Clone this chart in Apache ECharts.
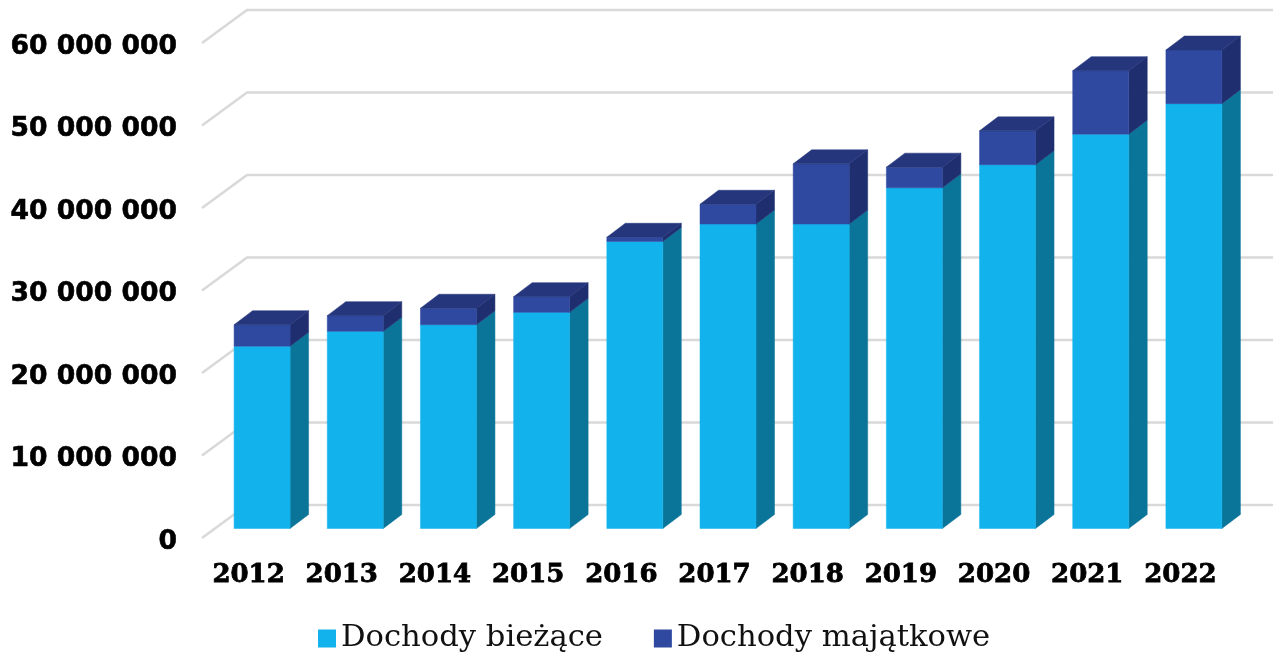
<!DOCTYPE html>
<html><head><meta charset="utf-8">
<style>html,body{margin:0;padding:0;background:#fff}#c{width:1274px;height:654px}</style>
<script src="https://cdn.jsdelivr.net/npm/echarts@6/dist/echarts.min.js"></script>
</head><body><div id="c"></div>
<script>
const years = ['2012','2013','2014','2015','2016','2017','2018','2019','2020','2021','2022'];
const current = [22100000,23900000,24700000,26200000,34800000,36900000,36900000,41300000,44100000,47800000,51500000];
const capital = [2600000,1900000,2000000,1900000,500000,2400000,7300000,2500000,4100000,7700000,6500000];
const ticks = [0,10000000,20000000,30000000,40000000,50000000,60000000];

const shift = {x:13.5, y:-9.5}, depth = {x:18.5, y:-14}, barW = 56, wall = {x:45, y:-33};
const chart = echarts.init(document.getElementById('c'), null, {renderer:'canvas'});

function poly(points, fill){
  return {type:'polygon', shape:{points}, style:{fill, stroke:fill, lineWidth:0.5}};
}
function segment(colors, withTop){
  return function(params, api){
    const i = api.value(0), lo = api.value(1), hi = api.value(2);
    const a = api.coord([i, lo]), b = api.coord([i, hi]);
    const l = a[0] + shift.x - barW/2, r = l + barW;
    const y0 = a[1] + shift.y, y1 = b[1] + shift.y;
    const dx = depth.x, dy = depth.y;
    const children = [
      poly([[r,y0],[r+dx,y0+dy],[r+dx,y1+dy],[r,y1]], colors.side),
      poly([[l,y0],[r,y0],[r,y1],[l,y1]], colors.front)
    ];
    if(withTop) children.push(poly([[l,y1],[r,y1],[r+dx,y1+dy],[l+dx,y1+dy]], colors.top));
    return {type:'group', children};
  };
}
const blue = {front:'#12B3ED', side:'#0B7599', top:'#0B7599'};
const navy = {front:'#2F49A0', side:'#1F2E6E', top:'#25367C'};

const lowData = years.map((y,i)=>[i,0,current[i]]);
const highData = years.map((y,i)=>[i,current[i],current[i]+capital[i]]);

chart.setOption({
  animation:false,
  backgroundColor:'#fff',
  grid:{left:202, top:43, width:1025, height:495, containLabel:false},
  legend:{
    data:['Dochody bieżące','Dochody majątkowe'],
    left:318, top:623, padding:0, itemWidth:18, itemHeight:18, itemGap:51,
    icon:'rect',
    textStyle:{fontFamily:'DejaVu Serif', fontSize:30.6, color:'#111'}
  },
  xAxis:{type:'category', data:years,
    axisLine:{show:false}, axisTick:{show:false}, splitLine:{show:false},
    axisLabel:{interval:0, fontFamily:'DejaVu Serif', fontWeight:'bold', fontSize:26, color:'#000', margin:24,
      textBorderColor:'#000', textBorderWidth:0.8}},
  yAxis:{type:'value', min:0, max:60000000, interval:10000000,
    axisLine:{show:false}, axisTick:{show:false}, splitLine:{show:false},
    axisLabel:{fontFamily:'DejaVu Sans', fontWeight:'bold', fontSize:26.6, color:'#000', margin:25,
      verticalAlign:'top', lineHeight:8,
      textBorderColor:'#000', textBorderWidth:0.6,
      formatter:v=>String(v).replace(/\B(?=(\d{3})+$)/g,' ')}},
  series:[
    {type:'custom', name:'grid', silent:true, z:1, data:ticks.map(v=>[0,v]), encode:{x:0,y:1},
     renderItem(params, api){
       const cs = params.coordSys;
       const y = api.coord([0, api.value(1)])[1];
       const x0 = cs.x, x1 = cs.x + wall.x, x2 = 1273;
       return {type:'polyline', shape:{points:[[x0,y],[x1,y+wall.y],[x2,y+wall.y]]},
         style:{stroke:'#D9D9D9', lineWidth:2.5, fill:null}};
     }},
    {type:'custom', name:'Dochody bieżące', z:2, itemStyle:{color:blue.front},
     data:lowData, encode:{x:0,y:[1,2]}, renderItem:segment(blue,false)},
    {type:'custom', name:'Dochody majątkowe', z:3, itemStyle:{color:navy.front},
     data:highData, encode:{x:0,y:[1,2]}, renderItem:segment(navy,true)}
  ]
});
</script></body></html>
